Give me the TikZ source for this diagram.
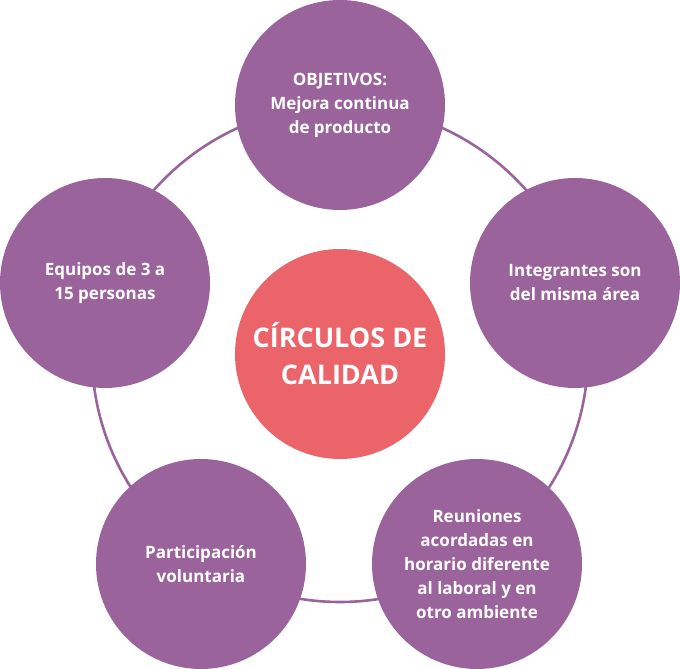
\documentclass[tikz,border=0pt]{standalone}
\usepackage{fontspec}
\setmainfont{Open Sans}
\usetikzlibrary{positioning}
\definecolor{calidadPurple}{RGB}{155,99,155}
\definecolor{calidadRed}{RGB}{235,100,106}

\begin{document}
\begin{tikzpicture}[
    x=1pt,y=1pt,
    idea/.style={circle,fill=calidadPurple,minimum size=210pt,inner sep=0pt,align=center,text=white,font=\fontsize{17}{24}\selectfont\bfseries},
    core/.style={circle,fill=calidadRed,minimum size=210pt,inner sep=0pt,align=center,text=white,font=\fontsize{27}{37}\selectfont\bfseries},
    ring/.style={draw=calidadPurple,line width=2.6pt}
  ]
    \useasboundingbox (0,0) rectangle (680,669);
    \node[core] (calidad) at (340,315) {CÍRCULOS DE\\CALIDAD};
    \draw[ring] (calidad.center) circle[radius=248];
    \node[idea] (objetivos) at (340,564) {OBJETIVOS:\\Mejora continua\\de producto};
    \node[idea] (integrantes) at (575,386) {Integrantes son\\del misma área};
    \node[idea] (reuniones) at (477,105) {Reuniones\\acordadas en\\horario diferente\\al laboral y en\\otro ambiente};
    \node[idea] (participacion) at (201,105) {Participación\\voluntaria};
    \node[idea] (equipos) at (105,386) {Equipos de 3 a\\15 personas};
  \end{tikzpicture}
\end{document}
